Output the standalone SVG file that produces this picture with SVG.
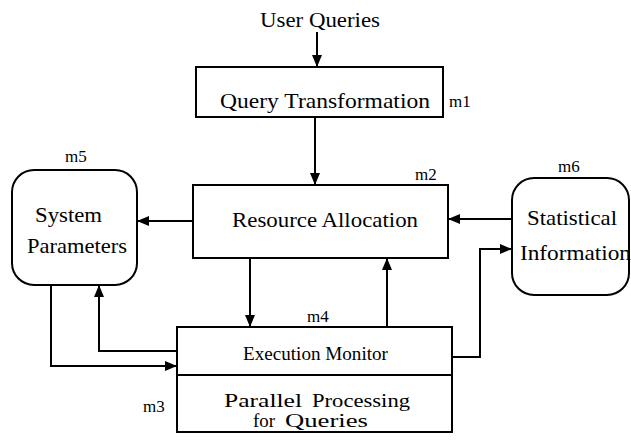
<svg xmlns="http://www.w3.org/2000/svg" width="631" height="443" viewBox="0 0 631 443">
<defs>
<marker id="ah" markerWidth="12" markerHeight="10" refX="12" refY="5" orient="auto" markerUnits="userSpaceOnUse">
<path d="M0,0 L12,5 L0,10 Z" fill="#000"/>
</marker>
<style>
text{font-family:'Liberation Serif','Times New Roman',serif;fill:#000}
.box{fill:#fff;stroke:#000;stroke-width:2}
.t{font-size:22px}
.p{font-size:19px}
.s{font-size:18px}
.m{font-size:17px}
.c{fill:none;stroke:#000;stroke-width:2;marker-end:url(#ah)}
.n{fill:none;stroke:#000;stroke-width:2}
</style>
</defs>
<rect width="631" height="443" fill="#fff"/>
<g id="connectors">
<path class="c" d="M317,32 V67"/>
<path class="c" d="M315,117 V185"/>
<path class="c" d="M193,221 H137"/>
<path class="c" d="M512,219 H448"/>
<path class="c" d="M250,258 V327"/>
<path class="c" d="M387,327 V258"/>
<path class="c" d="M51,285 V366 H177"/>
<path class="c" d="M177,351 H99 V285"/>
<path class="c" d="M452,357 H480 V249 H512"/>
</g>
<g id="user-queries">
<text class="t" x="260" y="27" textLength="120" lengthAdjust="spacingAndGlyphs">User Queries</text>
</g>
<g id="m1-query-transformation">
<rect class="box" x="196" y="67" width="247" height="50"/>
<text class="t" x="220" y="108" textLength="210" lengthAdjust="spacingAndGlyphs">Query Transformation</text>
<text class="m" x="449" y="107">m1</text>
</g>
<g id="m2-resource-allocation">
<rect class="box" x="193" y="185" width="255" height="73"/>
<text class="t" x="232" y="227" textLength="186" lengthAdjust="spacingAndGlyphs">Resource Allocation</text>
<text class="m" x="415" y="180">m2</text>
</g>
<g id="m5-system-parameters">
<rect class="box" x="12" y="170" width="125" height="115" rx="22" ry="22"/>
<text class="t" x="35" y="222" textLength="67" lengthAdjust="spacingAndGlyphs">System</text>
<text class="t" x="27" y="253" textLength="100" lengthAdjust="spacingAndGlyphs">Parameters</text>
<text class="m" x="65" y="162">m5</text>
</g>
<g id="m6-statistical-information">
<rect class="box" x="512" y="178" width="117" height="117" rx="22" ry="22"/>
<text class="t" x="527" y="225" textLength="90" lengthAdjust="spacingAndGlyphs">Statistical</text>
<text class="t" x="520" y="260" textLength="111" lengthAdjust="spacingAndGlyphs">Information</text>
<text class="m" x="558" y="172">m6</text>
</g>
<g id="m3-m4-execution">
<rect class="box" x="177" y="327" width="275" height="105"/>
<line class="n" x1="177" y1="375" x2="452" y2="375"/>
<text class="s" x="243" y="360" textLength="145" lengthAdjust="spacingAndGlyphs">Execution Monitor</text>
<text class="p" y="407"><tspan x="224" textLength="78" lengthAdjust="spacingAndGlyphs">Parallel</tspan> <tspan x="312" textLength="98" lengthAdjust="spacingAndGlyphs">Processing</tspan></text>
<text class="p" y="427"><tspan x="253" textLength="22" lengthAdjust="spacingAndGlyphs">for</tspan> <tspan x="285" textLength="83" lengthAdjust="spacingAndGlyphs">Queries</tspan></text>
<text class="m" x="307" y="322">m4</text>
<text class="m" x="143" y="412">m3</text>
</g>
</svg>
